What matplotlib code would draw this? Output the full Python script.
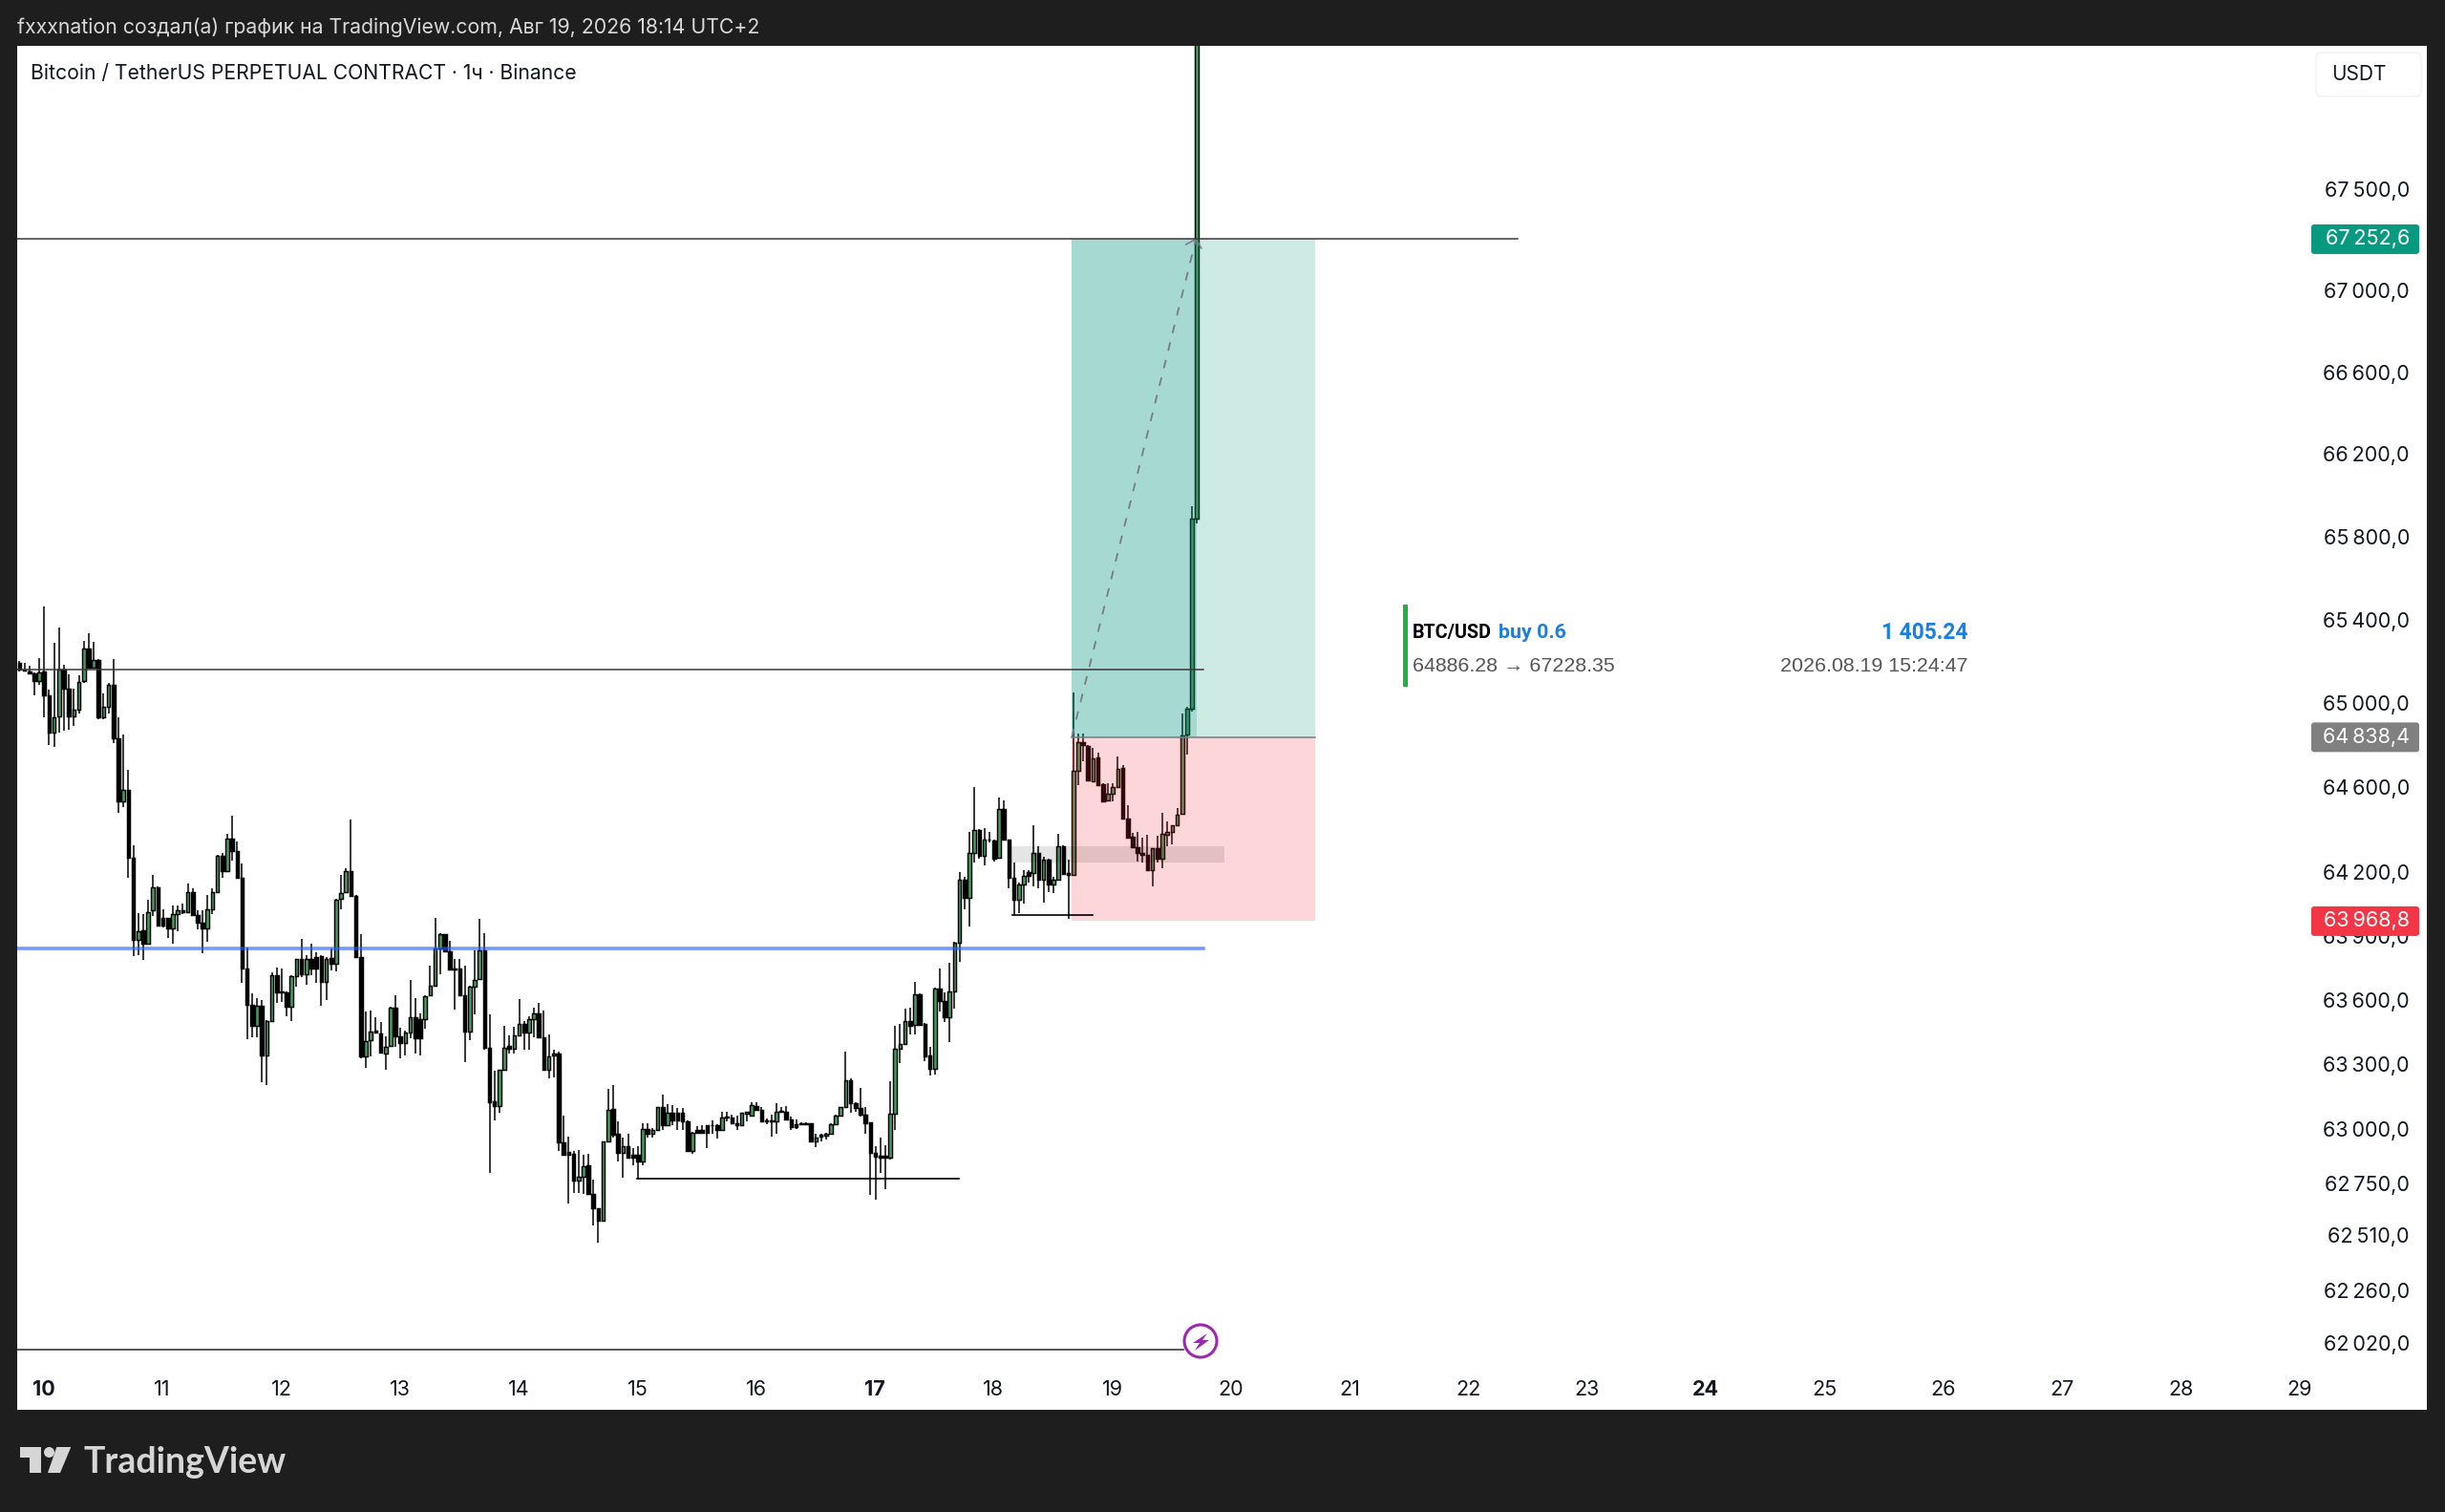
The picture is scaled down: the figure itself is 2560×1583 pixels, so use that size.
import numpy as np
import matplotlib
matplotlib.use('Agg')
import matplotlib.pyplot as plt
import matplotlib.ticker as mticker
from matplotlib.patches import FancyBboxPatch, Rectangle, Polygon, Circle

W, H = 2560, 1583
BG = '#1e1e1e'
FONT = ['Inter', 'DejaVu Sans']
SANS = ['Liberation Sans', 'DejaVu Sans']
NARROW = ['Roboto', 'DejaVu Sans']

# hourly candles
opens = [
    65194,65162,65154,65143,65108,65151,65039,64862,64939,65159,
    65071,64939,64971,65108,65260,65172,65207,64934,64982,65090,
    64833,64532,64589,64267,63881,63925,63862,64018,64126,63983,
    63983,63934,64002,64021,64010,64106,63997,63962,63934,64026,
    64106,64278,64203,64356,64299,64171,63745,63576,63480,63573,
    63343,63501,63716,63639,63636,63568,63713,63790,63721,63793,
    63801,63806,63684,63796,63769,64074,64106,64203,64087,63801,
    63335,63411,63456,63444,63351,63388,63565,63431,63399,63448,
    63520,63512,63512,63620,63668,63841,63909,63828,63748,63748,
    63624,63452,63661,63697,63833,63375,63127,63107,63273,63384,
    63374,63434,63486,63446,63509,63536,63426,63276,63341,63349,
    62937,62893,62885,62762,62781,62831,62699,62634,62576,62944,
    63092,62977,62891,62921,62881,62881,62851,62999,62980,62998,
    63100,63017,63077,63074,63074,63036,62899,62998,62998,63017,
    63017,63017,62998,63057,63054,63029,63017,63071,63063,63108,
    63089,63039,63039,63036,63086,63081,63044,63024,63027,63029,
    63027,62944,62974,62971,62978,63024,63062,63104,63224,63119,
    63096,63066,63032,62891,62876,62876,62870,63070,63374,63396,
    63501,63482,63626,63486,63341,63281,63654,63594,63519,63639,
    63869,64166,64079,64291,64396,64278,64355,64347,64267,64497,
    64355,64171,64069,64143,64198,64195,64291,64166,64259,64143,
    64166,64320,64195,64187,64680,64814,64797,64629,64741,64616,
    64540,64568,64601,64693,64452,64367,64315,64291,64283,64208,
    64312,64264,64376,64388,64420,64476,64850,64974,65888]
highs = [
    65204,65191,65178,65149,65218,65464,65067,65288,65363,65183,
    65140,65071,65132,65300,65333,65292,65210,65047,65098,65210,
    64934,64850,64685,64327,64007,64002,64070,64187,64131,64026,
    63986,64042,64042,64050,64147,64122,64018,64018,64090,64122,
    64283,64288,64380,64468,64343,64240,63845,63632,63608,63600,
    63504,63729,63750,63745,63641,63716,63793,63885,63809,63861,
    63825,63809,63801,63841,64074,64187,64219,64449,64090,63906,
    63544,63549,63520,63496,63431,63568,63623,63472,63456,63692,
    63608,63536,63624,63761,63986,63912,63910,63878,63793,63793,
    63761,63665,63833,63978,63914,63533,63269,63276,63479,63434,
    63476,63606,63501,63524,63566,63584,63551,63441,63366,63359,
    63063,62967,62899,62902,62883,62887,62766,62634,62944,63186,
    63204,63035,62959,62977,62910,62921,63029,63029,63005,63101,
    63159,63116,63111,63096,63096,63039,62987,63014,63020,63017,
    63040,63024,63081,63081,63066,63063,63077,63081,63126,63126,
    63104,63051,63066,63119,63100,63108,63059,63044,63032,63032,
    63029,62978,62978,62981,63029,63066,63104,63359,63234,63126,
    63191,63104,63032,62919,62959,62925,63221,63479,63489,63561,
    63566,63686,63632,63491,63381,63659,63746,63637,63772,63873,
    64200,64179,64388,64600,64404,64409,64388,64355,64552,64537,
    64355,64246,64150,64211,64211,64423,64323,64270,64262,64179,
    64380,64327,64259,65050,64854,64854,64802,64786,64765,64621,
    64621,64621,64749,64704,64516,64384,64388,64360,64375,64312,
    64372,64479,64441,64423,64503,64953,64982,65947,68650]
lows = [
    65154,65151,65141,65039,65087,64934,64801,64793,64862,64870,
    64873,64891,64950,65098,65167,65167,64926,64926,64950,64810,
    64481,64508,64171,63806,63809,63785,63857,63994,63946,63938,
    63889,63861,63922,64002,64007,63994,63930,63817,63873,64002,
    64103,64174,64198,64256,64168,63681,63415,63427,63427,63215,
    63203,63496,63587,63592,63523,63501,63661,63705,63673,63716,
    63681,63571,63600,63737,63732,64026,64103,64082,63798,63330,
    63284,63335,63444,63351,63276,63386,63383,63330,63343,63423,
    63351,63340,63468,63616,63665,63721,63822,63737,63557,63616,
    63311,63411,63533,63693,63367,62797,63041,63074,63269,63351,
    63351,63431,63366,63366,63426,63422,63276,63236,63239,62899,
    62881,62657,62706,62706,62699,62696,62554,62479,62576,62941,
    62962,62851,62777,62862,62831,62769,62834,62959,62959,62995,
    62995,63014,63017,62995,62995,62899,62884,62980,62980,62912,
    62980,62956,62990,63036,63026,62998,63014,63036,63062,63086,
    63036,63024,62967,62977,63074,63041,62998,63002,63017,63017,
    62941,62918,62941,62952,62977,63021,63059,63101,63077,63081,
    63059,62978,62696,62676,62796,62721,62860,62995,63306,63393,
    63441,63441,63479,63314,63246,63254,63546,63498,63404,63558,
    63780,64026,63942,64243,64262,64230,64339,64251,64262,64351,
    64122,63999,64005,64053,64150,64134,64122,64058,64106,64102,
    64163,64187,63978,64184,64613,64725,64629,64625,64609,64532,
    64535,64532,64600,64452,64359,64312,64251,64243,64208,64131,
    64246,64219,64323,64331,64417,64471,64757,64960,65862]
closes = [
    65159,65156,65145,65106,65148,65039,64862,64934,65159,65071,
    64939,64971,65103,65260,65172,65207,64931,64982,65090,64833,
    64532,64589,64267,63881,63922,63862,64013,64126,63949,63949,
    63934,64002,64021,64010,64106,63997,63962,63934,64026,64106,
    64278,64203,64356,64299,64171,63745,63576,63480,63573,63343,
    63501,63716,63636,63634,63568,63713,63790,63721,63793,63745,
    63745,63684,63793,63769,64071,64103,64203,64087,63801,63335,
    63407,63452,63448,63354,63383,63565,63431,63399,63448,63520,
    63420,63420,63616,63665,63841,63909,63828,63742,63742,63624,
    63452,63661,63693,63833,63375,63126,63107,63273,63379,63374,
    63434,63486,63446,63509,63536,63426,63276,63336,63349,62937,
    62881,62881,62762,62781,62828,62699,62634,62576,62944,63089,
    62974,62891,62921,62866,62866,62851,62999,62980,62995,63100,
    63017,63077,63041,63041,63036,62899,62984,62984,62984,62984,
    63020,62998,63054,63054,63029,63017,63074,63079,63111,63089,
    63036,63036,63036,63079,63079,63044,63009,63009,63023,63024,
    62944,62962,62967,62978,63024,63062,63100,63224,63119,63096,
    63066,63029,62891,62873,62870,62870,63070,63374,63396,63501,
    63479,63626,63482,63336,63281,63654,63594,63519,63639,63866,
    64166,64079,64288,64396,64278,64355,64351,64262,64497,64355,
    64171,64069,64143,64184,64184,64291,64166,64259,64143,64163,
    64320,64192,64187,64677,64814,64802,64632,64738,64613,64535,
    64568,64601,64688,64452,64364,64315,64291,64283,64208,64312,
    64264,64380,64388,64420,64471,64846,64974,65888,68600]

price_ticks = [67500, 67000, 66600, 66200, 65800, 65400, 65000, 64600, 64200,
               63900, 63600, 63300, 63000, 62750, 62510, 62260, 62020]
day_labels = [10, 11, 12, 13, 14, 15, 16, 17, 18, 19, 20, 21, 22, 23, 24, 25, 26, 27, 28, 29]
bold_days = [10, 17, 24]

target_price = 67252.6
entry_price = 64838.4
stop_price = 63968.8
level_blue = 63841
level_black = 65163
sweep_low_1 = 62769
sweep_low_2 = 63998
band_low, band_high = 64245, 64322
baseline = 61989


def thin(p):
    return f"{int(p) // 1000}\u2009{int(p) % 1000:03d},0"


fig = plt.figure(figsize=(W / 100, H / 100), dpi=100, facecolor=BG)
ax = fig.add_axes([18 / W, 1 - 1476 / H, (2541 - 18) / W, (1476 - 48) / H])
ax.set_facecolor('white')
ax.set_yscale('log')

t = np.arange(len(opens))
o, h, l, c = map(np.array, (opens, highs, lows, closes))
ax.vlines(t, l, h, color='black', lw=1.1, zorder=2)
up = c >= o
ax.bar(t, np.abs(c - o), bottom=np.minimum(o, c), width=0.7,
       color=np.where(up, '#4c9a60', '#000000'), edgecolor='black', linewidth=1.05, zorder=3)

# position tool
ax.add_patch(Rectangle((212.7, entry_price), 261.9 - 212.7, target_price - entry_price,
                       fc='#089981', alpha=0.2, lw=0, zorder=5))
ax.add_patch(Rectangle((212.7, entry_price), 238 - 212.7, target_price - entry_price,
                       fc='#089981', alpha=0.2, lw=0, zorder=5))
ax.add_patch(Rectangle((212.7, stop_price), 261.9 - 212.7, entry_price - stop_price,
                       fc='#f23645', alpha=0.2, lw=0, zorder=5))
ax.add_patch(Rectangle((200.1, band_low), 243.5 - 200.1, band_high - band_low,
                       fc='black', alpha=0.1, lw=0, zorder=6))
ax.plot([212.7, 261.9], [entry_price, entry_price], color='#787b86', lw=1.1, zorder=7)
ax.plot([212.7, 237.8], [entry_price, target_price], color='#787b86', lw=1.3,
        linestyle=(0, (5, 5.5)), zorder=7)
ax.plot([235.8, 237.8, 238.9], [67227, target_price, 67208], color='#787b86', lw=1.1, zorder=7)

# levels drawn on the chart
ax.plot([-1, 302.8], [target_price, target_price], color='#3a3a3a', lw=1.1, zorder=8)
ax.plot([-1, 239.3], [level_black, level_black], color='#3a3a3a', lw=1.1, zorder=8)
ax.plot([-1, 239.3], [level_blue, level_blue], color='#2962ff', alpha=0.65, lw=2.6, zorder=8)
ax.plot([124.8, 189.9], [sweep_low_1, sweep_low_1], color='black', lw=1.2, zorder=8)
ax.plot([200.7, 216.9], [sweep_low_2, sweep_low_2], color='black', lw=1.2, zorder=8)
ax.plot([-1, 235.3], [baseline, baseline], color='#3a3a3a', lw=1.2, zorder=8)

ax.set_xlim(-0.463, 486.6)
ax.set_ylim(61715, 68214)
ax.minorticks_off()
ax.yaxis.tick_right()
ax.set_yticks(price_ticks, [thin(p) for p in price_ticks])
ax.yaxis.set_minor_locator(mticker.NullLocator())
ax.yaxis.set_minor_formatter(mticker.NullFormatter())
ax.tick_params(axis='y', length=0, pad=-13, labelsize=15.5, labelcolor='#131722')
for lab in ax.get_yticklabels():
    lab.set_ha('right')
    lab.set_family(FONT)
ax.set_xticks([4.9 + 24 * (d - 10) for d in day_labels], [str(d) for d in day_labels])
ax.tick_params(axis='x', length=0, pad=-22, labelsize=15.5, labelcolor='#131722')
for lab, d in zip(ax.get_xticklabels(), day_labels):
    lab.set_family(FONT)
    if d in bold_days:
        lab.set_fontweight('bold')
for s in ax.spines.values():
    s.set_visible(False)

# everything outside the data: pixel overlay
ov = fig.add_axes([0, 0, 1, 1], facecolor='none')
ov.set_xlim(0, W)
ov.set_ylim(H, 0)
ov.axis('off')

ov.text(18, 29, 'fxxxnation создал(а) график на TradingView.com, Авг 19, 2026 18:14 UTC+2',
        color='#d8d8d8', fontsize=15.3, family=FONT, va='center')
ov.text(32, 77, 'Bitcoin / TetherUS PERPETUAL CONTRACT · 1ч · Binance',
        color='#131722', fontsize=15.2, family=FONT, va='center')

ov.add_patch(FancyBboxPatch((2425, 55), 110, 46, boxstyle='round,pad=0,rounding_size=6',
                            fc='white', ec='#f0f3fa', lw=1.2))
ov.text(2469.5, 78, 'USDT', color='#131722', fontsize=15, family=FONT, ha='center', va='center')

for price, col in [(target_price, '#089981'), (entry_price, '#808080'), (stop_price, '#f23645')]:
    yc = H - ax.transData.transform((0, price))[1]
    ov.add_patch(FancyBboxPatch((2422, yc - 13.5), 109, 27, boxstyle='round,pad=2,rounding_size=3',
                                fc=col, ec='none', lw=0))
    txt = f"{int(price) // 1000}\u2009{int(price) % 1000:03d},{int(round(price * 10)) % 10}"
    ov.text(2523, yc, txt, color='white', fontsize=15.5, family=FONT, ha='right', va='center')

# trade card
ov.add_patch(Rectangle((1469, 633), 5, 86, fc='#1fb141', lw=0))
ov.text(1479, 662, 'BTC/USD', color='black', fontsize=14.2, fontweight='bold', family=NARROW, va='center')
ov.text(1569, 662, 'buy 0.6', color='#1a7fe0', fontsize=15.4, fontweight='bold', family=NARROW, va='center')
ov.text(2060, 662, '1 405.24', color='#1a7fe0', fontsize=16.4, fontweight='bold', family=NARROW, ha='right', va='center')
ov.text(1479, 697, '64886.28 → 67228.35', color='#555555', fontsize=15.4, family=SANS, va='center')
ov.text(2060, 697, '2026.08.19 15:24:47', color='#555555', fontsize=15.4, family=SANS, ha='right', va='center')

# lightning marker
ov.add_patch(Circle((1257, 1404), 17, fc='white', ec='#9c27b0', lw=2.2))
ov.add_patch(Polygon([(1264, 1396), (1249, 1406), (1256, 1406), (1251, 1414), (1266, 1403), (1259, 1403)],
                     closed=True, fc='#9c27b0', lw=0))

# logo
LOGO = '#d6d6d6'
ov.add_patch(Polygon([(21, 1515), (42.5, 1515), (42.5, 1542), (31, 1542), (31, 1526), (21, 1526)],
                     closed=True, fc=LOGO, lw=0))
ov.add_patch(Circle((51.5, 1520.5), 5.5, fc=LOGO, lw=0))
ov.add_patch(Polygon([(59.3, 1515), (74.3, 1515), (63, 1542), (50, 1542)], closed=True, fc=LOGO, lw=0))
ov.text(87, 1542, 'TradingView', color=LOGO, fontsize=27, fontweight='bold', family=['Lato', 'DejaVu Sans'], va='baseline')

fig.savefig('out.png', dpi=100, facecolor=BG)
